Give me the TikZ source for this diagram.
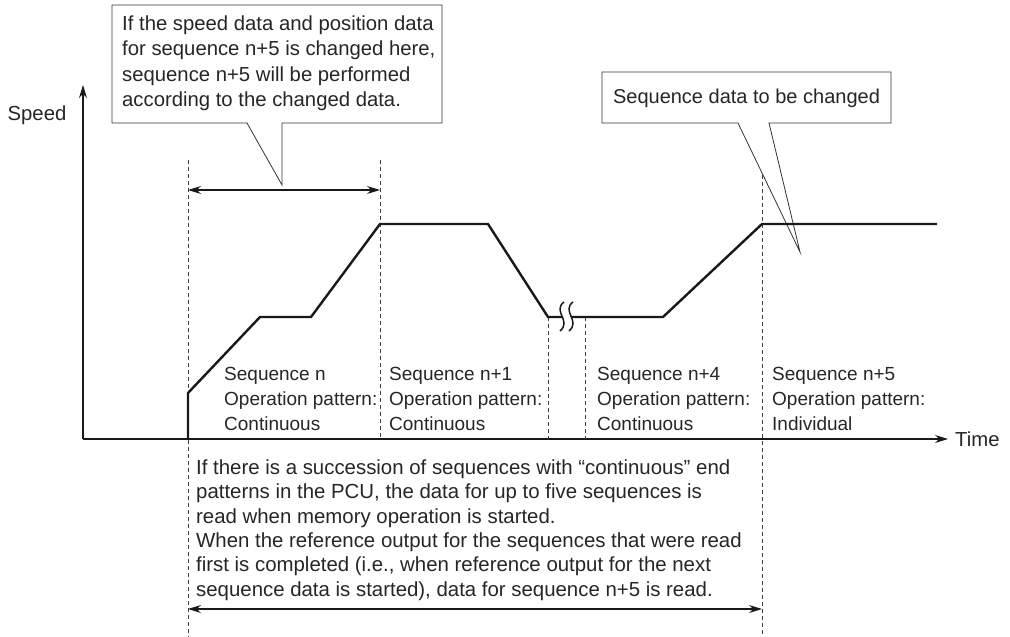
\documentclass[tikz,border=0pt]{standalone}
\usepackage{fontspec}
\setmainfont{Liberation Sans}
\usetikzlibrary{arrows.meta}
\begin{document}
\begin{tikzpicture}[x=1pt,y=-1pt,
  lbl/.style={font=\fontsize{19}{25}\selectfont, align=left, inner sep=0pt, anchor=base west, text=black!85},
  txt/.style={font=\fontsize{20.3}{25}\selectfont, inner sep=0pt, text=black!85},
  guide/.style={line width=0.8pt, draw=black!75, dash pattern=on 4pt off 3pt},
  prof/.style={line width=2.4pt, draw=black!90, line join=miter},
  axisline/.style={line width=1.1pt, draw=black!90, -{Stealth[length=13pt,width=8pt]}},
  dimline/.style={line width=1.1pt, draw=black!90, {Stealth[length=13pt,width=8pt]}-{Stealth[length=13pt,width=8pt]}},
  callout/.style={draw=black!80, line width=0.8pt, fill=white},
  brk/.style={line width=1.5pt, draw=black!90}]
\useasboundingbox (0,0) rectangle (1010,637);

% axes
\coordinate (O) at (83,439);
\coordinate (Ytop) at (83,85);
\coordinate (Xend) at (948,439);
\draw[axisline] (O) -- (Ytop);
\draw[axisline] (O) -- (Xend);
\node[txt] (speed) at (37,115) {Speed};
\node[txt, anchor=west] (time) at (955,439) {Time};

% guide lines
\coordinate (g1t) at (188,160); \coordinate (g1b) at (188,637);
\coordinate (g2t) at (380,160); \coordinate (g2b) at (380,439);
\coordinate (g3t) at (548,317); \coordinate (g3b) at (548,439);
\coordinate (g4t) at (585,317); \coordinate (g4b) at (585,439);
\coordinate (g5t) at (762,175); \coordinate (g5b) at (762,637);
\draw[guide] (g1t) -- (g1b);
\draw[guide] (g2t) -- (g2b);
\draw[guide] (g3t) -- (g3b);
\draw[guide] (g4t) -- (g4b);
\draw[guide] (g5t) -- (g5b);

% dimension arrows
\coordinate (d1a) at (188,190); \coordinate (d1b) at (380,190);
\draw[dimline] (d1a) -- (d1b);
\coordinate (d2a) at (188,609); \coordinate (d2b) at (762,609);
\draw[dimline] (d2a) -- (d2b);

% callout 1
\draw[callout] (112,5) -- (442,5) -- (442,123) -- (282,123) -- (282,185) -- (247,123) -- (112,123) -- cycle;
\node[lbl, font=\fontsize{20.3}{25.5}\selectfont] (c1) at (122,106.5) {If the speed data and position data\\for sequence n+5 is changed here,\\sequence n+5 will be performed\\according to the changed data.};

% callout 2
\draw[callout] (602,72) -- (891,72) -- (891,123) -- (769,123) -- (800,252) -- (738,123) -- (602,123) -- cycle;
\node[txt, font=\fontsize{20}{25}\selectfont] (c2) at (746.5,98) {Sequence data to be changed};

% speed profile
\coordinate (p0) at (188,439);
\coordinate (p1) at (188,393);
\coordinate (p2) at (260,317);
\coordinate (p3) at (311,317);
\coordinate (p4) at (380,224);
\coordinate (p5) at (488,224);
\coordinate (p6) at (548,317);
\coordinate (p7) at (663,317);
\coordinate (p8) at (762,224);
\coordinate (p9) at (937,224);
\draw[prof] (p0) -- (p1) -- (p2) -- (p3) -- (p4) -- (p5) -- (p6) -- (p7) -- (p8) -- (p9);

% break symbol
\fill[white] (564,302) .. controls (552,311) and (572,321) .. (560,331) -- (569,331) .. controls (581,321) and (561,311) .. (573,302) -- cycle;
\draw[brk] (564,302) .. controls (552,311) and (572,321) .. (560,331);
\draw[brk] (573,302) .. controls (561,311) and (581,321) .. (569,331);

% sequence labels
\node[lbl] (s1) at (224,430) {Sequence n\\Operation pattern:\\Continuous};
\node[lbl] (s2) at (389,430) {Sequence n+1\\Operation pattern:\\Continuous};
\node[lbl] (s3) at (597,430) {Sequence n+4\\Operation pattern:\\Continuous};
\node[lbl] (s4) at (772,430) {Sequence n+5\\Operation pattern:\\Individual};

% bottom text
\node[lbl, font=\fontsize{20.4}{24.3}\selectfont] (bt) at (196,596) {If there is a succession of sequences with “continuous” end\\patterns in the PCU, the data for up to five sequences is\\read when memory operation is started.\\When the reference output for the sequences that were read\\first is completed (i.e., when reference output for the next\\sequence data is started), data for sequence n+5 is read.};
\end{tikzpicture}
\end{document}
